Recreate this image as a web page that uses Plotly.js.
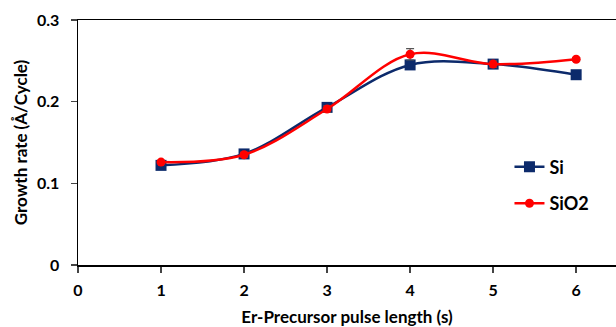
<!DOCTYPE html>
<html><head><meta charset="utf-8">
<script src="https://cdn.plot.ly/plotly-3.0.1.min.js"></script>
<style>body{margin:0;background:#fff}#c{width:616px;height:327px}</style>
</head><body><div id="c"></div>
<script>
const pulse = [1, 2, 3, 4, 5, 6];
const siRate = [0.122, 0.136, 0.193, 0.245, 0.246, 0.233];
const sio2Rate = [0.126, 0.135, 0.191, 0.258, 0.246, 0.252];
const siErr = [0.002, 0.003, 0.005, 0.004, 0.003, 0.002];
const sio2Err = [0.002, 0.003, 0.004, 0.007, 0.004, 0.002];
const xTicks = [0, 1, 2, 3, 4, 5, 6];
const yTicks = [0, 0.1, 0.2, 0.3];
const yTickText = ['0', '0.1', '0.2', '0.3'];

const fontFam = 'Lato, "Open Sans", sans-serif';
const traces = [
  {x: pulse, y: siRate, name: 'Si', type: 'scatter', mode: 'lines+markers', legendgroup: 'a',
   line: {color: '#0c2a6b', width: 2.5, shape: 'spline'},
   marker: {symbol: 'square', size: 11, color: '#0c2a6b'},
   error_y: {type: 'data', array: siErr, color: '#0c2a6b', thickness: 1.2, width: 4}},
  {x: pulse, y: sio2Rate, name: 'SiO2', type: 'scatter', mode: 'lines+markers', legendgroup: 'b',
   line: {color: '#ff0000', width: 2.5, shape: 'spline'},
   marker: {symbol: 'circle', size: 9, color: '#ff0000'},
   error_y: {type: 'data', array: sio2Err, color: '#555555', thickness: 1.2, width: 4}}
];
const layout = {
  width: 616, height: 327,
  margin: {l: 78, r: 0, t: 20, b: 62},
  paper_bgcolor: '#fff', plot_bgcolor: '#fff',
  font: {family: fontFam, color: '#000', size: 16},
  showlegend: true,
  legend: {x: 0.802, y: 0.475, xanchor: 'left', yanchor: 'top', bgcolor: 'rgba(0,0,0,0)',
           traceorder: 'grouped', tracegroupgap: 10, itemwidth: 30,
           font: {family: fontFam, size: 18, color: '#000', weight: 'bold'}},
  xaxis: {range: [0, 6.48], tickvals: xTicks, ticks: 'outside', ticklen: 6, tickwidth: 1.5,
          showline: true, linecolor: '#000', linewidth: 1.5, mirror: true, showgrid: false, zeroline: false,
          ticklabelstandoff: 4,
          tickfont: {family: fontFam, size: 16, weight: 'bold'},
          title: {text: 'Er-Precursor pulse length (s)', standoff: 14,
                  font: {family: fontFam, size: 17, weight: 'bold'}}},
  yaxis: {range: [0, 0.3], tickvals: yTicks, ticktext: yTickText, ticks: 'outside', ticklen: 6, tickwidth: 1.5,
          showline: true, linecolor: '#000', linewidth: 1.5, showgrid: false, zeroline: false,
          ticklabelstandoff: 8,
          tickfont: {family: fontFam, size: 16, weight: 'bold'},
          title: {text: 'Growth rate (Å/Cycle)', standoff: 5,
                  font: {family: fontFam, size: 17, weight: 'bold'}}}
};
Plotly.newPlot('c', traces, layout, {displayModeBar: false, staticPlot: true});
</script></body></html>
